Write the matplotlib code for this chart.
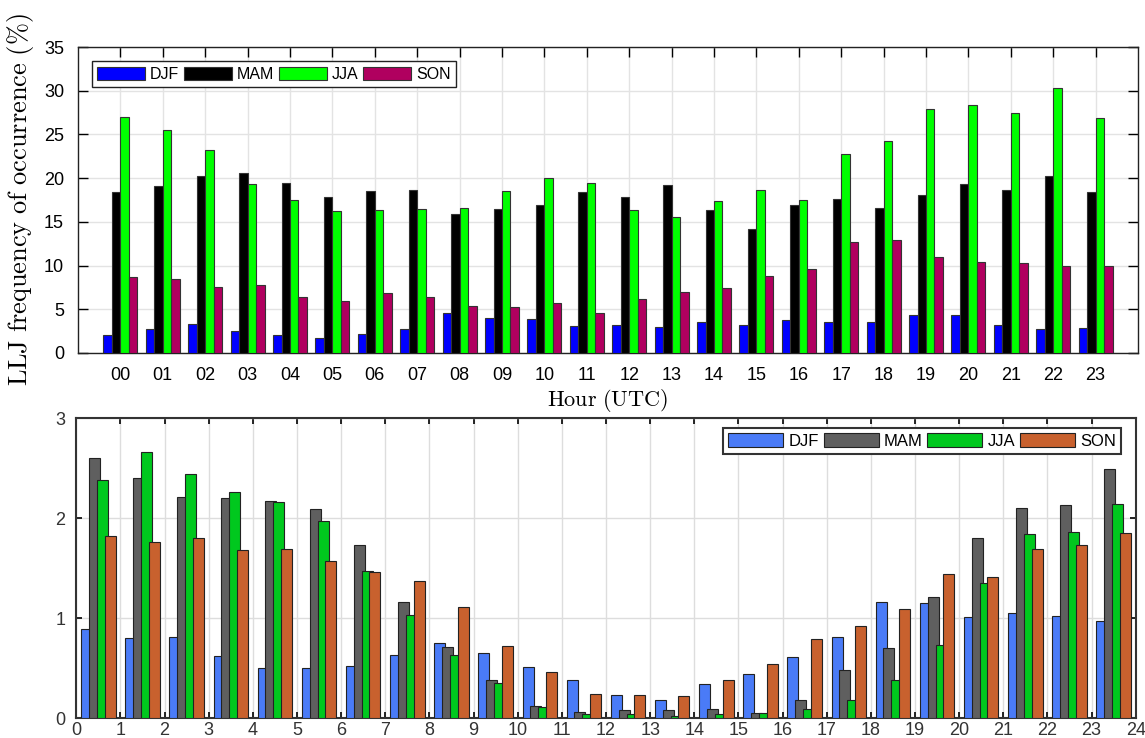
import numpy as np
import matplotlib
matplotlib.use('Agg')
import matplotlib.pyplot as plt

plt.rcParams['mathtext.fontset'] = 'cm'

# ---- data ----
seasons = ['DJF', 'MAM', 'JJA', 'SON']

hours_top = ['%02d' % h for h in range(24)]
top_djf = [2.1, 2.8, 3.3, 2.5, 2.1, 1.75, 2.2, 2.75, 4.6, 4.0, 3.9, 3.1,
           3.2, 3.0, 3.6, 3.25, 3.8, 3.55, 3.6, 4.4, 4.3, 3.2, 2.75, 2.9]
top_mam = [18.4, 19.1, 20.3, 20.6, 19.4, 17.8, 18.5, 18.7, 15.9, 16.5, 16.95, 18.4,
           17.9, 19.2, 16.4, 14.2, 16.95, 17.6, 16.6, 18.05, 19.35, 18.7, 20.2, 18.4]
top_jja = [27.0, 25.5, 23.2, 19.35, 17.5, 16.2, 16.3, 16.5, 16.6, 18.5, 20.0, 19.5,
           16.4, 15.5, 17.4, 18.6, 17.5, 22.8, 24.2, 27.9, 28.4, 27.5, 30.3, 26.9]
top_son = [8.74, 8.5, 7.6, 7.8, 6.4, 5.9, 6.9, 6.4, 5.4, 5.3, 5.7, 4.6,
           6.2, 7.0, 7.4, 8.85, 9.6, 12.7, 12.9, 11.0, 10.4, 10.3, 9.9, 9.95]

bot_djf = [0.89, 0.80, 0.81, 0.62, 0.50, 0.50, 0.52, 0.63, 0.75, 0.65, 0.51, 0.38,
           0.23, 0.18, 0.34, 0.44, 0.61, 0.81, 1.16, 1.15, 1.01, 1.05, 1.02, 0.97]
bot_mam = [2.60, 2.40, 2.21, 2.20, 2.17, 2.09, 1.73, 1.16, 0.71, 0.38, 0.12, 0.067,
           0.083, 0.083, 0.093, 0.053, 0.18, 0.48, 0.70, 1.21, 1.80, 2.10, 2.13, 2.49]
bot_jja = [2.38, 2.66, 2.44, 2.26, 2.16, 1.97, 1.47, 1.03, 0.63, 0.35, 0.11, 0.04,
           0.04, 0.027, 0.04, 0.053, 0.09, 0.18, 0.38, 0.73, 1.35, 1.84, 1.86, 2.14]
bot_son = [1.82, 1.76, 1.80, 1.68, 1.69, 1.57, 1.46, 1.37, 1.11, 0.72, 0.46, 0.24,
           0.23, 0.22, 0.38, 0.54, 0.79, 0.92, 1.09, 1.44, 1.41, 1.69, 1.73, 1.85]

top_colors = ['#0000ff', '#000000', '#00ff00', '#b0005f']
bot_colors = ['#4a7bf7', '#5f5f5f', '#00c81e', '#c8612e']

fig = plt.figure(figsize=(11.45, 7.38), dpi=100)
sans = 'Liberation Sans'

# ---- top panel ----
ax1 = fig.add_axes([0.0681, 0.5217, 0.9258, 0.4146])
x = np.arange(24)
w = 0.2
for i, (vals, c) in enumerate(zip([top_djf, top_mam, top_jja, top_son], top_colors)):
    ax1.bar(x + (i - 1.5) * w, vals, width=w, color=c, edgecolor='#333333',
            linewidth=0.8, label=seasons[i], zorder=3)
ax1.set_xlim(-1, 24)
ax1.set_ylim(0, 35)
ax1.set_xticks(x)
ax1.set_xticklabels(hours_top)
ax1.set_yticks(np.arange(0, 36, 5))
ax1.grid(True, color='#e3e3e3', linewidth=1, zorder=0)
ax1.tick_params(direction='in', length=7, width=1, top=True, right=True,
                labelsize=13, pad=10)
for lbl in ax1.get_xticklabels() + ax1.get_yticklabels():
    lbl.set_fontfamily(sans)
for s in ax1.spines.values():
    s.set_color('#222222')
    s.set_linewidth(1)
ax1.set_ylabel(r'$\mathrm{LLJ\ frequency\ of\ occurrence\ (\%)}$', fontsize=19, labelpad=6)
ax1.set_xlabel(r'$\mathrm{Hour\ (UTC)}$', fontsize=16, labelpad=2)
leg1 = ax1.legend(loc='upper left', bbox_to_anchor=(0.013, 0.954), ncol=4,
                  prop={'family': sans, 'size': 11.5}, frameon=True, fancybox=False,
                  edgecolor='#222222', framealpha=1, handlelength=3.0, handleheight=0.85,
                  handletextpad=0.3, columnspacing=0.3, borderpad=0.35, borderaxespad=0)
leg1.get_frame().set_linewidth(1)

# ---- bottom panel ----
ax2 = fig.add_axes([0.0666, 0.0267, 0.9253, 0.4065])
xb = np.arange(24) + 0.5
offs = [-0.265, -0.09, 0.09, 0.265]
for i, (vals, c) in enumerate(zip([bot_djf, bot_mam, bot_jja, bot_son], bot_colors)):
    ax2.bar(xb + offs[i], vals, width=0.25, color=c, edgecolor='#222222',
            linewidth=0.8, label=seasons[i], zorder=3)
ax2.set_xlim(0, 24)
ax2.set_ylim(0, 3)
ax2.set_xticks(np.arange(25))
ax2.set_yticks([0, 1, 2, 3])
ax2.grid(True, color='#dddddd', linewidth=1, zorder=0)
ax2.tick_params(direction='in', length=4, width=1.2, top=True, right=True,
                labelsize=13, pad=3)
ax2.tick_params(axis='y', pad=8)
for lbl in ax2.get_xticklabels() + ax2.get_yticklabels():
    lbl.set_fontfamily(sans)
    lbl.set_color('#333333')
for s in ax2.spines.values():
    s.set_color('#333333')
    s.set_linewidth(1.5)
leg2 = ax2.legend(loc='upper right', bbox_to_anchor=(0.986, 0.968), ncol=4,
                  prop={'family': sans, 'size': 12}, frameon=True, fancybox=False,
                  edgecolor='#333333', framealpha=1, handlelength=3.3, handleheight=0.9,
                  handletextpad=0.3, columnspacing=0.3, borderpad=0.3, borderaxespad=0)
leg2.get_frame().set_linewidth(1.5)

plt.savefig('out.png', dpi=100)
